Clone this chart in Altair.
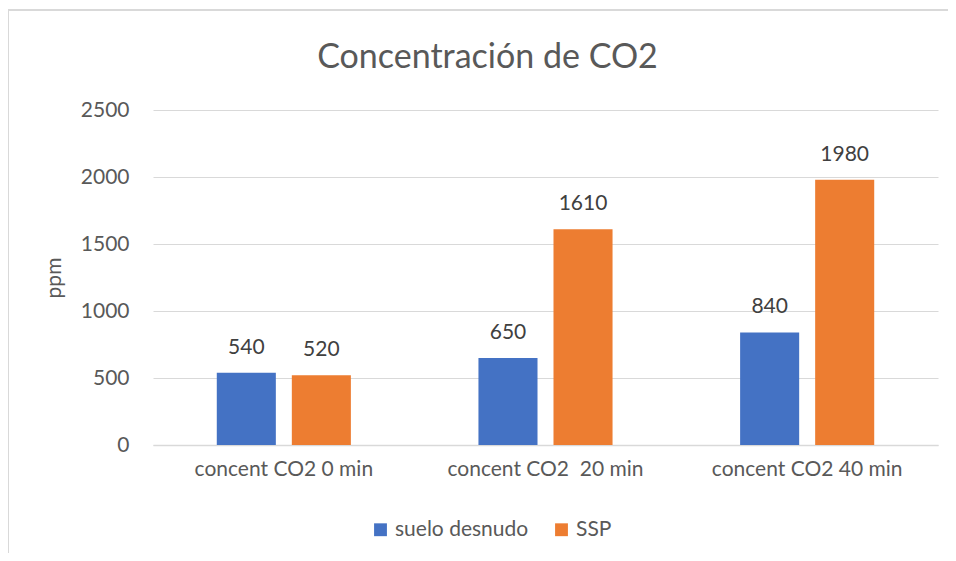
import altair as alt
import pandas as pd

categories = ["concent CO2 0 min", "concent CO2\u00a0 20 min", "concent CO2 40 min"]
series = ["suelo desnudo", "SSP"]
suelo_desnudo = [540, 650, 840]
ssp = [520, 1610, 1980]
y_ticks = [0, 500, 1000, 1500, 2000, 2500]
colors = ["#4472C4", "#ED7D31"]

rows = []
for i, c in enumerate(categories):
    rows.append({"cat": c, "serie": series[0], "val": suelo_desnudo[i], "ord": 0})
    rows.append({"cat": c, "serie": series[1], "val": ssp[i], "ord": 1})
df = pd.DataFrame(rows)

FONT = "Lato"
FS = 21

x = alt.X("cat:N", sort=categories, title=None,
          scale=alt.Scale(paddingInner=0, paddingOuter=0),
          axis=alt.Axis(labelAngle=0, labelFontSize=FS, labelColor="#595959",
                        labelFont=FONT, labelPadding=13, ticks=False,
                        domainColor="#d9d9d9", domainWidth=1.5, labelLimit=300))
xo = alt.XOffset("serie:N", sort=series,
                 scale=alt.Scale(paddingInner=0.213, paddingOuter=0.85))
y = alt.Y("val:Q", title="ppm",
          scale=alt.Scale(domain=[0, 2500], nice=False),
          axis=alt.Axis(values=y_ticks, format="d", labelFontSize=FS, labelColor="#595959",
                        labelFont=FONT, ticks=False, domain=False,
                        gridColor="#d9d9d9", gridWidth=1.2, labelPadding=24,
                        titleFontSize=FS, titleColor="#595959", titleFont=FONT,
                        titleFontWeight="normal", titlePadding=16))

bars = alt.Chart(df).mark_bar().encode(
    x=x, xOffset=xo, y=y,
    color=alt.Color("serie:N", sort=series,
                    scale=alt.Scale(domain=series, range=colors),
                    legend=alt.Legend(title=None, orient="none", direction="horizontal",
                                      legendX=217, legendY=76 + 335 - 2,
                                      symbolType="square", symbolSize=165,
                                      symbolStrokeWidth=0,
                                      labelFontSize=FS, labelColor="#595959",
                                      labelFont=FONT, columnPadding=22,
                                      labelOffset=4)),
)

labels = alt.Chart(df).mark_text(baseline="bottom", dy=-15, fontSize=FS,
                                 color="#404040", font=FONT).encode(
    x=alt.X("cat:N", sort=categories), xOffset=alt.XOffset("serie:N", sort=series),
    y="val:Q", text="val:Q",
)

frame_left = alt.Chart(df).mark_rule(color="#d9d9d9", strokeWidth=1.5).encode(
    x=alt.value(-145), y=alt.value(-100), y2=alt.value(460))
frame_top = alt.Chart(df).mark_rule(color="#d9d9d9", strokeWidth=1.5).encode(
    x=alt.value(-145), x2=alt.value(800), y=alt.value(-100))

chart = alt.layer(bars, labels, frame_left, frame_top).properties(
    width=785, height=335,
    autosize=alt.AutoSizeParams(type="none"),
    padding={"left": 145, "top": 102, "right": 10, "bottom": 108},
    title=alt.Title("Concentración de CO2", fontSize=34, color="#595959",
                    font=FONT, fontWeight="normal", anchor="middle",
                    dx=-58, dy=104, offset=38),
).configure_view(stroke=None)

chart.save("out.html", embed_options={"renderer": "svg", "actions": False})
